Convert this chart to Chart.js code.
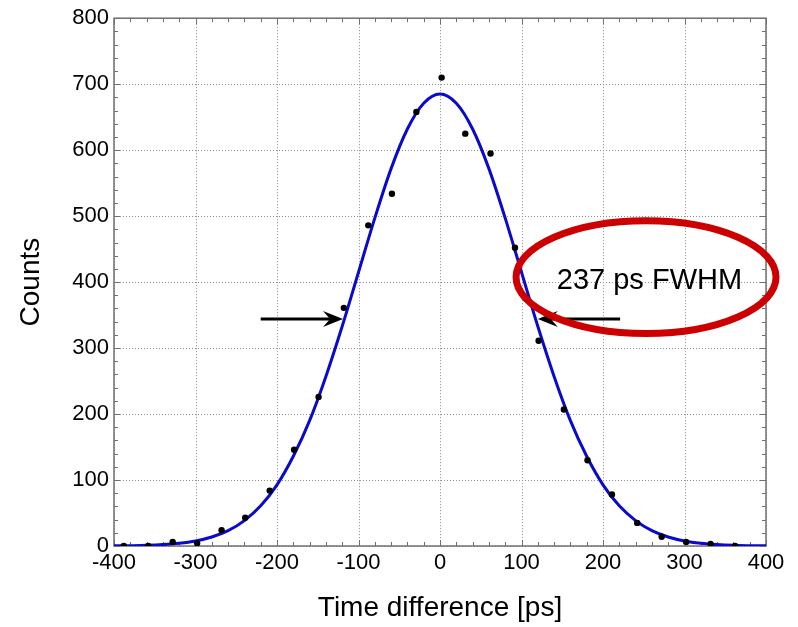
<!DOCTYPE html>
<html>
<head>
<meta charset="utf-8">
<title>Time difference histogram</title>
<script src="https://cdn.jsdelivr.net/npm/chart.js@4.4.1/dist/chart.umd.min.js"></script>
<style>
  html, body { margin: 0; padding: 0; background: #fff; }
  #wrap { width: 798px; height: 627px; }
</style>
</head>
<body>
<div id="wrap"><canvas id="myChart" width="798" height="627"></canvas></div>
<script>
// measured counts per time bin
const binTimes = [-388, -358, -328, -298, -268, -239, -209, -179, -149, -118, -88, -59, -29,
  2, 31, 62, 92, 121, 152, 181, 211, 242, 272, 302, 332, 362];
const binCounts = [0, 0, 6, 4, 24, 43, 84, 146, 226, 361, 486, 534, 658,
  710, 625, 595, 452, 311, 207, 130, 78, 35, 14, 6, 3, 0];

// gaussian fit curve
const fitTimes = [-400, -380, -360, -340, -320, -300, -280, -260, -240, -220, -200, -180, -160,
  -140, -120, -100, -80, -60, -40, -20, 0, 20, 40, 60, 80, 100, 120, 140, 160, 180, 200,
  220, 240, 260, 280, 300, 320, 340, 360, 380, 400];
const fitCounts = [0.2, 0.5, 1.0, 2.1, 4.1, 7.6, 13.6, 23.3, 38.5, 60.9, 92.7, 136, 190,
  257, 333, 415, 497, 572, 632, 671, 685, 671, 632, 572, 497, 415, 333, 257, 190, 136, 92.7,
  60.9, 38.5, 23.3, 13.6, 7.6, 4.1, 2.1, 1.0, 0.5, 0.2];

const xTicks = [-400, -300, -200, -100, 0, 100, 200, 300, 400];
const yTicks = [0, 100, 200, 300, 400, 500, 600, 700, 800];

// FWHM annotation (data units)
const fwhmLabel = "237 ps FWHM";
const fwhmLevel = 344;
const leftArrow = [-220, -119];
const rightArrow = [221, 120];

const FONT = 'Arial, "Liberation Sans", sans-serif';

function drawArrow(ctx, x0, x1, y) {
  const dir = x1 > x0 ? 1 : -1;
  ctx.save();
  ctx.strokeStyle = "#000";
  ctx.fillStyle = "#000";
  ctx.lineWidth = 3;
  ctx.beginPath();
  ctx.moveTo(x0, y);
  ctx.lineTo(x1 - dir * 10, y);
  ctx.stroke();
  ctx.beginPath();
  ctx.moveTo(x1, y);
  ctx.lineTo(x1 - dir * 20, y - 8);
  ctx.lineTo(x1 - dir * 13, y);
  ctx.lineTo(x1 - dir * 20, y + 8);
  ctx.closePath();
  ctx.fill();
  ctx.restore();
}

const frameAndGrid = {
  id: "frameAndGrid",
  beforeDatasetsDraw(chart) {
    const { ctx, chartArea: a, scales } = chart;
    const xs = scales.x, ys = scales.y;
    ctx.save();
    // dotted grid
    ctx.strokeStyle = "#8c8c8c";
    ctx.lineWidth = 1;
    ctx.setLineDash([1, 2]);
    xTicks.forEach((v) => {
      const px = Math.round(xs.getPixelForValue(v)) + 0.5;
      ctx.beginPath();
      ctx.moveTo(px, a.top);
      ctx.lineTo(px, a.bottom);
      ctx.stroke();
    });
    yTicks.forEach((v) => {
      const py = Math.round(ys.getPixelForValue(v)) + 0.5;
      ctx.beginPath();
      ctx.moveTo(a.left, py);
      ctx.lineTo(a.right, py);
      ctx.stroke();
    });
    ctx.setLineDash([]);
    // inward ticks on all four sides, every 20
    ctx.strokeStyle = "#707070";
    ctx.lineWidth = 1;
    for (let v = -400; v <= 400; v += 20) {
      const px = Math.round(xs.getPixelForValue(v)) + 0.5;
      const len = v % 100 === 0 ? 6 : 4;
      ctx.beginPath();
      ctx.moveTo(px, a.bottom);
      ctx.lineTo(px, a.bottom - len);
      ctx.moveTo(px, a.top);
      ctx.lineTo(px, a.top + len);
      ctx.stroke();
    }
    for (let v = 0; v <= 800; v += 20) {
      const py = Math.round(ys.getPixelForValue(v)) + 0.5;
      const len = v % 100 === 0 ? 6 : 4;
      ctx.beginPath();
      ctx.moveTo(a.left, py);
      ctx.lineTo(a.left + len, py);
      ctx.moveTo(a.right, py);
      ctx.lineTo(a.right - len, py);
      ctx.stroke();
    }
    // frame
    ctx.strokeStyle = "#707070";
    ctx.lineWidth = 1.5;
    ctx.strokeRect(a.left, a.top, a.right - a.left, a.bottom - a.top);
    ctx.restore();
  },
  afterDraw(chart) {
    const { ctx, scales } = chart;
    const xs = scales.x, ys = scales.y;
    const y = ys.getPixelForValue(fwhmLevel);
    drawArrow(ctx, xs.getPixelForValue(leftArrow[0]), xs.getPixelForValue(leftArrow[1]), y);
    drawArrow(ctx, xs.getPixelForValue(rightArrow[0]), xs.getPixelForValue(rightArrow[1]), y);

    // red ellipse round the label
    const cx = xs.getPixelForValue(252.8);
    const cy = ys.getPixelForValue(407.6);
    const rx = xs.getPixelForValue(252.8 + 159.5) - cx;
    const ry = cy - ys.getPixelForValue(407.6 + 85.5);
    ctx.save();
    ctx.strokeStyle = "#cc0000";
    ctx.lineWidth = 7;
    ctx.beginPath();
    ctx.ellipse(cx, cy, rx, ry, 0, 0, Math.PI * 2);
    ctx.stroke();
    ctx.fillStyle = "#000";
    ctx.font = "29px " + FONT;
    ctx.textAlign = "center";
    ctx.textBaseline = "middle";
    ctx.fillText(fwhmLabel, xs.getPixelForValue(257), ys.getPixelForValue(401));
    ctx.restore();
  },
};

document.addEventListener("DOMContentLoaded", function () {
  const ctx = document.getElementById("myChart").getContext("2d");
  new Chart(ctx, {
    type: "scatter",
    data: {
      datasets: [
        {
          label: "Counts",
          data: binTimes.map((t, i) => ({ x: t, y: binCounts[i] })),
          pointRadius: 3.2,
          pointBackgroundColor: "#000",
          pointBorderWidth: 0,
          showLine: false,
        },
        {
          label: "Fit",
          data: fitTimes.map((t, i) => ({ x: t, y: fitCounts[i] })),
          showLine: true,
          pointRadius: 0,
          borderColor: "#0a0acc",
          borderWidth: 3,
          cubicInterpolationMode: "monotone",
        },
      ],
    },
    options: {
      responsive: false,
      animation: false,
      events: [],
      layout: { padding: { left: 0, right: 32, top: 18, bottom: 0 } },
      plugins: { legend: { display: false }, tooltip: { enabled: false } },
      scales: {
        x: {
          type: "linear",
          min: -400,
          max: 400,
          grid: { display: false, drawTicks: false },
          border: { display: false },
          ticks: {
            stepSize: 100,
            color: "#000",
            padding: 4,
            maxRotation: 0,
            font: { family: FONT, size: 22 },
          },
          title: {
            display: true,
            text: "Time difference [ps]",
            color: "#000",
            font: { family: FONT, size: 28, lineHeight: 1 },
            padding: { top: 0, bottom: 5 },
          },
          afterFit(scale) { scale.height = 81; },
        },
        y: {
          type: "linear",
          min: 0,
          max: 800,
          grid: { display: false, drawTicks: false },
          border: { display: false },
          ticks: {
            stepSize: 100,
            color: "#000",
            padding: 5,
            font: { family: FONT, size: 22 },
          },
          title: {
            display: true,
            text: "Counts",
            color: "#000",
            font: { family: FONT, size: 28, lineHeight: 1 },
            padding: { top: 17, bottom: 0 },
          },
          afterFit(scale) { scale.width = 114; },
        },
      },
    },
    plugins: [frameAndGrid],
  });
});
</script>
</body>
</html>
